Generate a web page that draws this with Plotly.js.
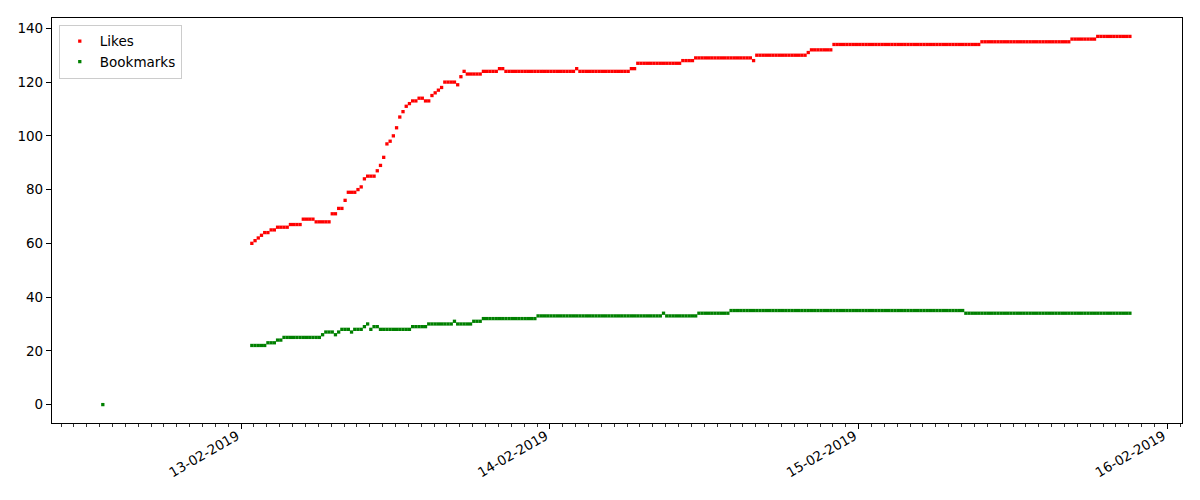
<!DOCTYPE html>
<html>
<head>
<meta charset="utf-8">
<script src="https://cdn.plot.ly/plotly-3.0.1.min.js"></script>
<style>
  html, body { margin: 0; padding: 0; background: #fff; }
  #chart { width: 1200px; height: 500px; }
</style>
</head>
<body>
<div id="chart"></div>
<script>
// First (isolated) observation: only the Bookmarks value is visible in the picture
const firstTime = '2019-02-12 13:15:00';
const firstLikes = null;
const firstBookmarks = 0;

// Regularly sampled observations: start time and sampling step
const sampleStart = '2019-02-13 00:50:00';
const sampleStepMinutes = 15;

const likes = [
  60,61,62,63,64,64,65,65,66,66,
  66,66,67,67,67,67,69,69,69,69,
  68,68,68,68,68,71,71,73,73,76,
  79,79,79,80,81,84,85,85,85,87,
  89,92,97,98,100,103,107,109,111,112,
  113,113,114,114,113,113,115,116,117,118,
  120,120,120,120,119,122,124,123,123,123,
  123,123,124,124,124,124,124,125,125,124,
  124,124,124,124,124,124,124,124,124,124,
  124,124,124,124,124,124,124,124,124,124,
  124,125,124,124,124,124,124,124,124,124,
  124,124,124,124,124,124,124,124,125,125,
  127,127,127,127,127,127,127,127,127,127,
  127,127,127,127,128,128,128,128,129,129,
  129,129,129,129,129,129,129,129,129,129,
  129,129,129,129,129,129,128,130,130,130,
  130,130,130,130,130,130,130,130,130,130,
  130,130,130,131,132,132,132,132,132,132,
  132,134,134,134,134,134,134,134,134,134,
  134,134,134,134,134,134,134,134,134,134,
  134,134,134,134,134,134,134,134,134,134,
  134,134,134,134,134,134,134,134,134,134,
  134,134,134,134,134,134,134,135,135,135,
  135,135,135,135,135,135,135,135,135,135,
  135,135,135,135,135,135,135,135,135,135,
  135,135,135,135,135,136,136,136,136,136,
  136,136,136,137,137,137,137,137,137,137,
  137,137,137,137
];

const bookmarks = [
  22,22,22,22,22,23,23,23,24,24,
  25,25,25,25,25,25,25,25,25,25,
  25,25,26,27,27,27,26,27,28,28,
  28,27,28,28,28,29,30,28,29,29,
  28,28,28,28,28,28,28,28,28,28,
  29,29,29,29,29,30,30,30,30,30,
  30,30,30,31,30,30,30,30,30,31,
  31,31,32,32,32,32,32,32,32,32,
  32,32,32,32,32,32,32,32,32,33,
  33,33,33,33,33,33,33,33,33,33,
  33,33,33,33,33,33,33,33,33,33,
  33,33,33,33,33,33,33,33,33,33,
  33,33,33,33,33,33,33,33,34,33,
  33,33,33,33,33,33,33,33,33,34,
  34,34,34,34,34,34,34,34,34,35,
  35,35,35,35,35,35,35,35,35,35,
  35,35,35,35,35,35,35,35,35,35,
  35,35,35,35,35,35,35,35,35,35,
  35,35,35,35,35,35,35,35,35,35,
  35,35,35,35,35,35,35,35,35,35,
  35,35,35,35,35,35,35,35,35,35,
  35,35,35,35,35,35,35,35,35,35,
  35,35,34,34,34,34,34,34,34,34,
  34,34,34,34,34,34,34,34,34,34,
  34,34,34,34,34,34,34,34,34,34,
  34,34,34,34,34,34,34,34,34,34,
  34,34,34,34,34,34,34,34,34,34,
  34,34,34,34
];

const seriesNames = ['Likes', 'Bookmarks'];
const seriesColors = ['#ff0000', '#008000'];

// Build timestamps
function toStr(ms) { return new Date(ms).toISOString().slice(0, 19).replace('T', ' '); }
function parse(s) {
  const [d, t] = s.split(' ');
  const [Y, M, D] = d.split('-').map(Number);
  const [h, m, sec] = t.split(':').map(Number);
  return Date.UTC(Y, M - 1, D, h, m, sec);
}
const t0 = parse(sampleStart);
const times = [firstTime];
for (let i = 0; i < likes.length; i++) times.push(toStr(t0 + i * sampleStepMinutes * 60000));

const yLikes = [firstLikes].concat(likes);
const yBook = [firstBookmarks].concat(bookmarks);

const font = { family: 'DejaVu Sans, sans-serif', size: 13.5, color: '#000' };

const traces = [
  { x: times, y: yLikes, name: seriesNames[0], type: 'scatter', mode: 'markers',
    marker: { color: seriesColors[0], symbol: 'square', size: 3.3, line: { width: 0 } } },
  { x: times, y: yBook, name: seriesNames[1], type: 'scatter', mode: 'markers',
    marker: { color: seriesColors[1], symbol: 'square', size: 3.3, line: { width: 0 } } }
];

const layout = {
  width: 1200, height: 500,
  margin: { l: 52, r: 18, t: 18, b: 77 },
  paper_bgcolor: '#fff', plot_bgcolor: '#fff',
  font: font,
  showlegend: true,
  legend: {
    x: 0.006, y: 0.983, xanchor: 'left', yanchor: 'top',
    bgcolor: 'rgba(255,255,255,0.8)', bordercolor: '#cccccc', borderwidth: 1,
    font: font, tracegroupgap: 2, itemsizing: 'trace'
  },
  xaxis: {
    type: 'date',
    range: ['2019-02-12 09:18:00', '2019-02-16 01:08:00'],
    tick0: '2019-02-13', dtick: 86400000,
    tickformat: '%d-%m-%Y', tickangle: -30,
    ticklabelstandoff: -6, ticklabelshift: -4,
    ticks: 'outside', ticklen: 5, tickwidth: 1.1, tickcolor: '#000',
    minor: { dtick: 3600000, tick0: '2019-02-13', ticks: 'outside', ticklen: 3, tickwidth: 0.8, tickcolor: '#000', showgrid: false },
    showgrid: false, zeroline: false,
    showline: true, linecolor: '#000', linewidth: 1.1, mirror: true,
    tickfont: font
  },
  yaxis: {
    range: [-6.85, 143.85],
    tick0: 0, dtick: 20,
    ticks: 'outside', ticklen: 5, tickwidth: 1.1, tickcolor: '#000',
    showgrid: false, zeroline: false,
    showline: true, linecolor: '#000', linewidth: 1.1, mirror: true,
    tickfont: font
  }
};

Plotly.newPlot('chart', traces, layout, { displayModeBar: false, staticPlot: true });
</script>
</body>
</html>
